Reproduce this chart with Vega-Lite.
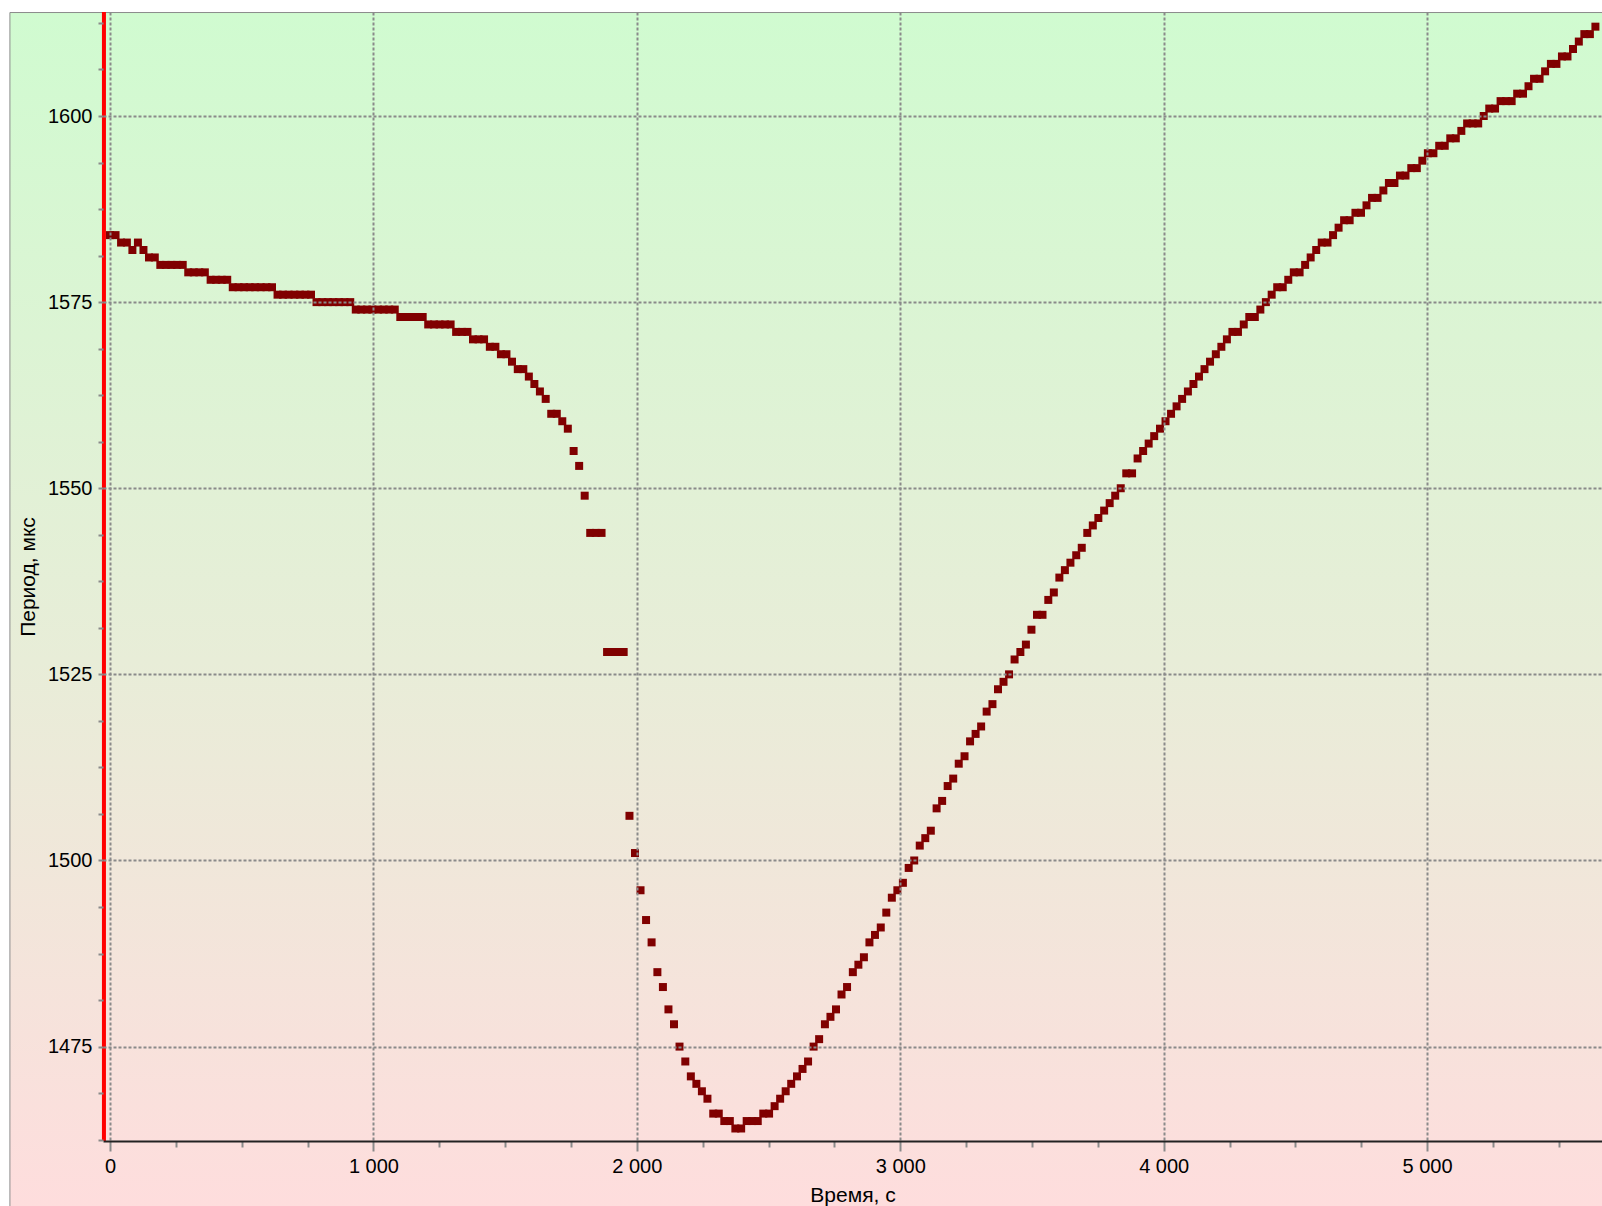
{
  "$schema": "https://vega.github.io/schema/vega-lite/v6.json",
  "width": 1499,
  "height": 1129,
  "autosize": "none",
  "padding": {"left": 103, "top": 12, "right": 0, "bottom": 65},
  "background": "#ffffff",
  "config": {
    "view": {"stroke": null},
    "font": "Liberation Sans"
  },
  "layer": [
    {
      "data": {"values": [{}]},
      "mark": {
        "type": "rect",
        "fill": {
          "gradient": "linear", "x1": 0, "y1": 0, "x2": 0, "y2": 1,
          "stops": [
            {"offset": 0, "color": "#D0FBD0"},
            {"offset": 0.5, "color": "#E8EDD8"},
            {"offset": 0.922, "color": "#FEDDDD"},
            {"offset": 1, "color": "#FEDDDD"}
          ]
        },
        "stroke": "#8c8c8c",
        "strokeWidth": 1
      },
      "encoding": {
        "x": {"datum": -380, "type": "quantitative", "scale": {"domain": [-26.6, 5664], "nice": false, "zero": false}},
        "x2": {"datum": 6500},
        "y": {"datum": 1613.9, "type": "quantitative", "scale": {"domain": [1462.32, 1613.97], "nice": false, "zero": false}},
        "y2": {"datum": 1440}
      }
    },
    {
      "data": {"values": [{}]},
      "mark": {"type": "rule", "color": "#ff0000", "strokeWidth": 4},
      "encoding": {
        "x": {"datum": -23, "type": "quantitative", "scale": {"domain": [-26.6, 5664], "nice": false, "zero": false}}
      }
    },
    {
      "data": {"values": [
        {"t":0,"p":1584},{"t":21,"p":1584},{"t":42,"p":1583},{"t":64,"p":1583},{"t":85,"p":1582},{"t":106,"p":1583},{"t":127,"p":1582},{"t":148,"p":1581},{"t":170,"p":1581},{"t":191,"p":1580},
        {"t":212,"p":1580},{"t":233,"p":1580},{"t":254,"p":1580},{"t":276,"p":1580},{"t":297,"p":1579},{"t":318,"p":1579},{"t":339,"p":1579},{"t":360,"p":1579},{"t":382,"p":1578},{"t":403,"p":1578},
        {"t":424,"p":1578},{"t":445,"p":1578},{"t":466,"p":1577},{"t":488,"p":1577},{"t":509,"p":1577},{"t":530,"p":1577},{"t":551,"p":1577},{"t":572,"p":1577},{"t":594,"p":1577},{"t":615,"p":1577},
        {"t":636,"p":1576},{"t":657,"p":1576},{"t":678,"p":1576},{"t":700,"p":1576},{"t":721,"p":1576},{"t":742,"p":1576},{"t":763,"p":1576},{"t":784,"p":1575},{"t":806,"p":1575},{"t":827,"p":1575},
        {"t":848,"p":1575},{"t":869,"p":1575},{"t":890,"p":1575},{"t":912,"p":1575},{"t":933,"p":1574},{"t":954,"p":1574},{"t":975,"p":1574},{"t":996,"p":1574},{"t":1018,"p":1574},{"t":1039,"p":1574},
        {"t":1060,"p":1574},{"t":1081,"p":1574},{"t":1102,"p":1573},{"t":1124,"p":1573},{"t":1145,"p":1573},{"t":1166,"p":1573},{"t":1187,"p":1573},{"t":1208,"p":1572},{"t":1230,"p":1572},{"t":1251,"p":1572},
        {"t":1272,"p":1572},{"t":1293,"p":1572},{"t":1314,"p":1571},{"t":1336,"p":1571},{"t":1357,"p":1571},{"t":1378,"p":1570},{"t":1399,"p":1570},{"t":1420,"p":1570},{"t":1442,"p":1569},{"t":1463,"p":1569},
        {"t":1484,"p":1568},{"t":1505,"p":1568},{"t":1526,"p":1567},{"t":1548,"p":1566},{"t":1569,"p":1566},{"t":1590,"p":1565},{"t":1611,"p":1564},{"t":1632,"p":1563},{"t":1654,"p":1562},{"t":1675,"p":1560},
        {"t":1696,"p":1560},{"t":1717,"p":1559},{"t":1738,"p":1558},{"t":1760,"p":1555},{"t":1781,"p":1553},{"t":1802,"p":1549},{"t":1823,"p":1544},{"t":1844,"p":1544},{"t":1866,"p":1544},{"t":1887,"p":1528},
        {"t":1908,"p":1528},{"t":1929,"p":1528},{"t":1950,"p":1528},{"t":1972,"p":1506},{"t":1993,"p":1501},{"t":2014,"p":1496},{"t":2035,"p":1492},{"t":2056,"p":1489},{"t":2078,"p":1485},{"t":2099,"p":1483},
        {"t":2120,"p":1480},{"t":2141,"p":1478},{"t":2162,"p":1475},{"t":2184,"p":1473},{"t":2205,"p":1471},{"t":2226,"p":1470},{"t":2247,"p":1469},{"t":2268,"p":1468},{"t":2290,"p":1466},{"t":2311,"p":1466},
        {"t":2332,"p":1465},{"t":2353,"p":1465},{"t":2374,"p":1464},{"t":2396,"p":1464},{"t":2417,"p":1465},{"t":2438,"p":1465},{"t":2459,"p":1465},{"t":2480,"p":1466},{"t":2502,"p":1466},{"t":2523,"p":1467},
        {"t":2544,"p":1468},{"t":2565,"p":1469},{"t":2586,"p":1470},{"t":2608,"p":1471},{"t":2629,"p":1472},{"t":2650,"p":1473},{"t":2671,"p":1475},{"t":2692,"p":1476},{"t":2714,"p":1478},{"t":2735,"p":1479},
        {"t":2756,"p":1480},{"t":2777,"p":1482},{"t":2798,"p":1483},{"t":2820,"p":1485},{"t":2841,"p":1486},{"t":2862,"p":1487},{"t":2883,"p":1489},{"t":2904,"p":1490},{"t":2926,"p":1491},{"t":2947,"p":1493},
        {"t":2968,"p":1495},{"t":2989,"p":1496},{"t":3010,"p":1497},{"t":3032,"p":1499},{"t":3053,"p":1500},{"t":3074,"p":1502},{"t":3095,"p":1503},{"t":3116,"p":1504},{"t":3138,"p":1507},{"t":3159,"p":1508},
        {"t":3180,"p":1510},{"t":3201,"p":1511},{"t":3222,"p":1513},{"t":3244,"p":1514},{"t":3265,"p":1516},{"t":3286,"p":1517},{"t":3307,"p":1518},{"t":3328,"p":1520},{"t":3350,"p":1521},{"t":3371,"p":1523},
        {"t":3392,"p":1524},{"t":3413,"p":1525},{"t":3434,"p":1527},{"t":3456,"p":1528},{"t":3477,"p":1529},{"t":3498,"p":1531},{"t":3519,"p":1533},{"t":3540,"p":1533},{"t":3562,"p":1535},{"t":3583,"p":1536},
        {"t":3604,"p":1538},{"t":3625,"p":1539},{"t":3646,"p":1540},{"t":3668,"p":1541},{"t":3689,"p":1542},{"t":3710,"p":1544},{"t":3731,"p":1545},{"t":3752,"p":1546},{"t":3774,"p":1547},{"t":3795,"p":1548},
        {"t":3816,"p":1549},{"t":3837,"p":1550},{"t":3858,"p":1552},{"t":3880,"p":1552},{"t":3901,"p":1554},{"t":3922,"p":1555},{"t":3943,"p":1556},{"t":3964,"p":1557},{"t":3986,"p":1558},{"t":4007,"p":1559},
        {"t":4028,"p":1560},{"t":4049,"p":1561},{"t":4070,"p":1562},{"t":4092,"p":1563},{"t":4113,"p":1564},{"t":4134,"p":1565},{"t":4155,"p":1566},{"t":4176,"p":1567},{"t":4198,"p":1568},{"t":4219,"p":1569},
        {"t":4240,"p":1570},{"t":4261,"p":1571},{"t":4282,"p":1571},{"t":4304,"p":1572},{"t":4325,"p":1573},{"t":4346,"p":1573},{"t":4367,"p":1574},{"t":4388,"p":1575},{"t":4410,"p":1576},{"t":4431,"p":1577},
        {"t":4452,"p":1577},{"t":4473,"p":1578},{"t":4494,"p":1579},{"t":4516,"p":1579},{"t":4537,"p":1580},{"t":4558,"p":1581},{"t":4579,"p":1582},{"t":4600,"p":1583},{"t":4622,"p":1583},{"t":4643,"p":1584},
        {"t":4664,"p":1585},{"t":4685,"p":1586},{"t":4706,"p":1586},{"t":4728,"p":1587},{"t":4749,"p":1587},{"t":4770,"p":1588},{"t":4791,"p":1589},{"t":4812,"p":1589},{"t":4834,"p":1590},{"t":4855,"p":1591},
        {"t":4876,"p":1591},{"t":4897,"p":1592},{"t":4918,"p":1592},{"t":4940,"p":1593},{"t":4961,"p":1593},{"t":4982,"p":1594},{"t":5003,"p":1595},{"t":5024,"p":1595},{"t":5046,"p":1596},{"t":5067,"p":1596},
        {"t":5088,"p":1597},{"t":5109,"p":1597},{"t":5130,"p":1598},{"t":5152,"p":1599},{"t":5173,"p":1599},{"t":5194,"p":1599},{"t":5215,"p":1600},{"t":5236,"p":1601},{"t":5258,"p":1601},{"t":5279,"p":1602},
        {"t":5300,"p":1602},{"t":5321,"p":1602},{"t":5342,"p":1603},{"t":5364,"p":1603},{"t":5385,"p":1604},{"t":5406,"p":1605},{"t":5427,"p":1605},{"t":5448,"p":1606},{"t":5470,"p":1607},{"t":5491,"p":1607},
        {"t":5512,"p":1608},{"t":5533,"p":1608},{"t":5554,"p":1609},{"t":5576,"p":1610},{"t":5597,"p":1611},{"t":5618,"p":1611},{"t":5639,"p":1612}
      ]},
      "mark": {"type": "square", "size": 64, "color": "#800000", "opacity": 1, "filled": true},
      "encoding": {
        "x": {
          "field": "t", "type": "quantitative",
          "scale": {"domain": [-26.6, 5664], "nice": false, "zero": false},
          "axis": {
            "values": [0,250,500,750,1000,1250,1500,1750,2000,2250,2500,2750,3000,3250,3500,3750,4000,4250,4500,4750,5000,5250,5500],
            "labelExpr": "datum.value % 1000 === 0 ? replace(format(datum.value, ','), ',', ' ') : ''",
            "title": "Время, с",
            "grid": true,
            "gridDash": [3, 2],
            "gridColor": "#8a8a8a",
            "gridWidth": 2,
            "gridOpacity": {"condition": {"test": "datum.value % 1000 === 0", "value": 1}, "value": 0},
            "tickSize": {"condition": {"test": "datum.value % 1000 === 0", "value": 10}, "value": 6},
            "tickColor": "#8a8a8a",
            "tickWidth": 2,
            "domainColor": "#222222",
            "domainWidth": 2,
            "labelFont": "Liberation Sans",
            "labelFontSize": 20,
            "labelColor": "#000000",
            "labelPadding": 5,
            "labelFlush": false,
            "labelOverlap": false,
            "labelBound": false,
            "titleFont": "Liberation Sans",
            "titleFontSize": 21,
            "titleFontWeight": "normal",
            "titleColor": "#000000",
            "titlePadding": 8,
            "zindex": 1
          }
        },
        "y": {
          "field": "p", "type": "quantitative",
          "scale": {"domain": [1462.32, 1613.97], "nice": false, "zero": false},
          "axis": {
            "values": [1462.5,1468.75,1475,1481.25,1487.5,1493.75,1500,1506.25,1512.5,1518.75,1525,1531.25,1537.5,1543.75,1550,1556.25,1562.5,1568.75,1575,1581.25,1587.5,1593.75,1600,1606.25,1612.5],
            "format": "d",
            "labelExpr": "datum.value % 25 === 0 ? datum.label : ''",
            "title": "Период, мкс",
            "grid": true,
            "gridDash": [3, 2],
            "gridColor": "#8a8a8a",
            "gridWidth": 2,
            "gridOpacity": {"condition": {"test": "datum.value % 25 === 0", "value": 1}, "value": 0},
            "tickSize": 5,
            "tickColor": "#8a8a8a",
            "tickWidth": 2,
            "domain": false,
            "labelFont": "Liberation Sans",
            "labelFontSize": 20,
            "labelColor": "#000000",
            "labelPadding": 6,
            "labelFlush": false,
            "labelOverlap": false,
            "labelBound": false,
            "titleFont": "Liberation Sans",
            "titleFontSize": 21,
            "titleFontWeight": "normal",
            "titleColor": "#000000",
            "titlePadding": 9,
            "zindex": 1
          }
        }
      }
    }
  ]
}
